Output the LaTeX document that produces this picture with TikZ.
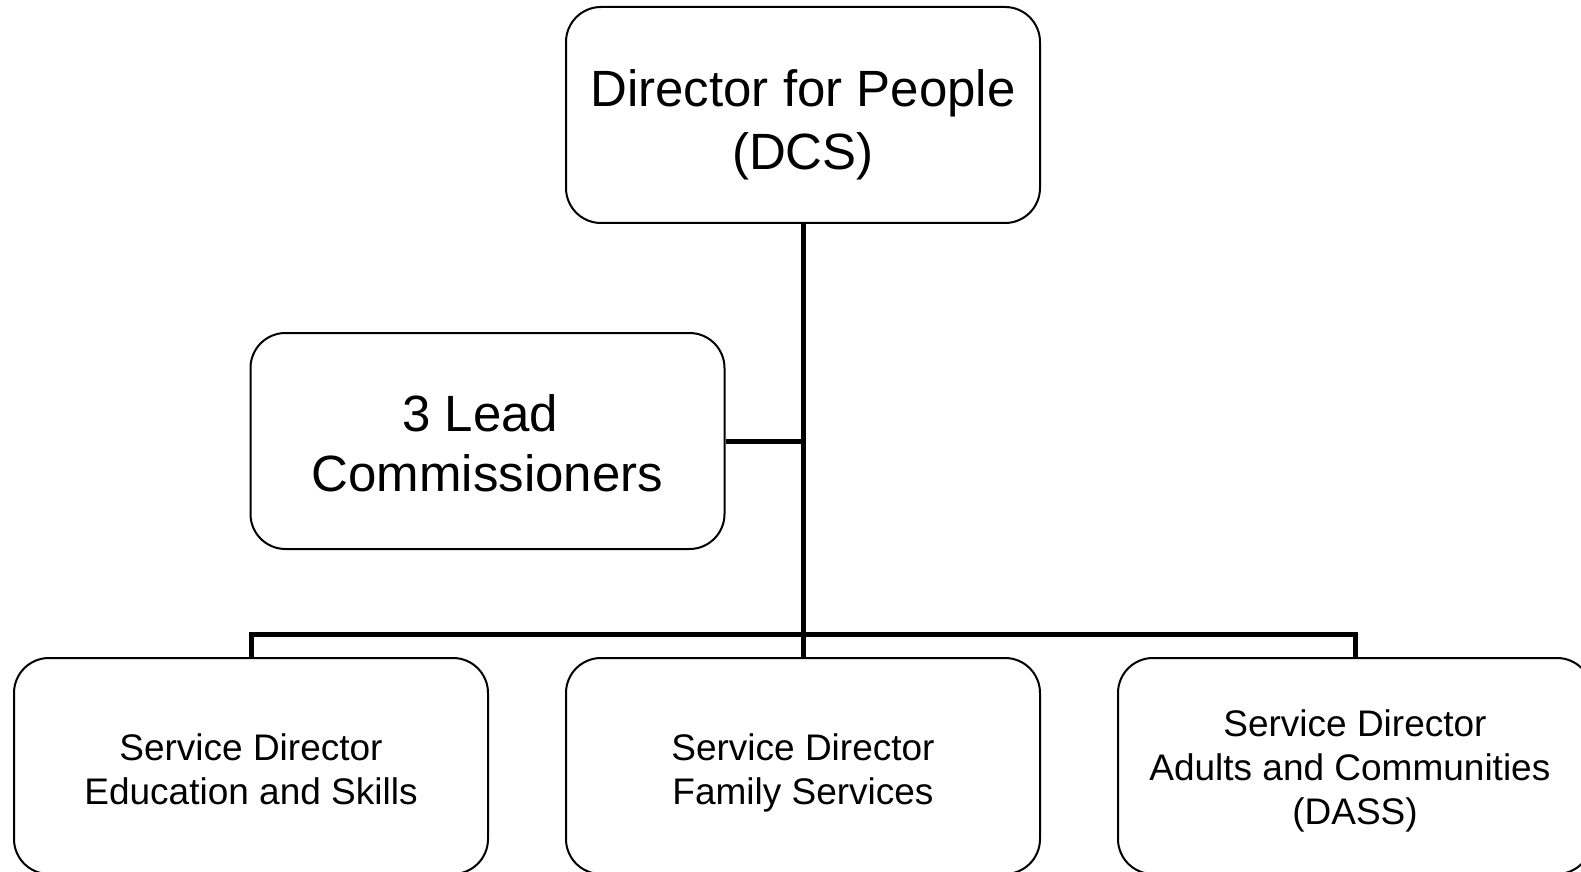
\documentclass[tikz,border=0pt]{standalone}
\usepackage{fontspec}
\setmainfont{Liberation Sans}
\newcommand{\bxtext}[2]{\raisebox{-#1}[\height][\depth]{\begin{tabular}{@{}c@{}}#2\end{tabular}}}
\begin{document}
\begin{tikzpicture}[x=0.5pt,y=-0.5pt,
  box/.style={draw=black, line width=1pt, rounded corners=17.5pt, rectangle,
    minimum width=237pt, minimum height=108pt, inner sep=0pt, fill=white},
  bigtext/.style={font=\fontsize{25.5}{31.5}\selectfont},
  midtext/.style={font=\fontsize{25.5}{30}\selectfont},
  smalltext/.style={font=\fontsize{18.5}{21.75}\selectfont},
  smallwide/.style={font=\fontsize{18.5}{22}\selectfont},
  conn/.style={draw=black, line width=2.5pt}]
\useasboundingbox (0,0) rectangle (1581,872);
\node[box,bigtext] (top) at (803,115) {\bxtext{5pt}{Director for People\\(DCS)}};
\node[box,midtext] (mid) at (487.5,441) {\bxtext{4pt}{3 Lead\hspace*{0.278em}\\Commissioners}};
\node[box,smalltext] (bl) at (251,766) {\bxtext{4pt}{Service Director\\Education and Skills}};
\node[box,smalltext] (bm) at (803,766) {\bxtext{4pt}{Service Director\\Family Services}};
\node[box,smallwide] (br) at (1355,766) {\bxtext{2.9pt}{Service Director\\Adults and Communities\hspace*{0.278em}\\(DASS)}};
\coordinate (hb) at (803,634);
\draw[conn] (top.south) -- (hb);
\draw[conn] (mid.east) -- (mid.east -| top.south);
\draw[conn] (bl.north) -- (bl.north |- hb) -- (br.north |- hb) -- (br.north);
\draw[conn] (hb) -- (bm.north);
\end{tikzpicture}
\end{document}
